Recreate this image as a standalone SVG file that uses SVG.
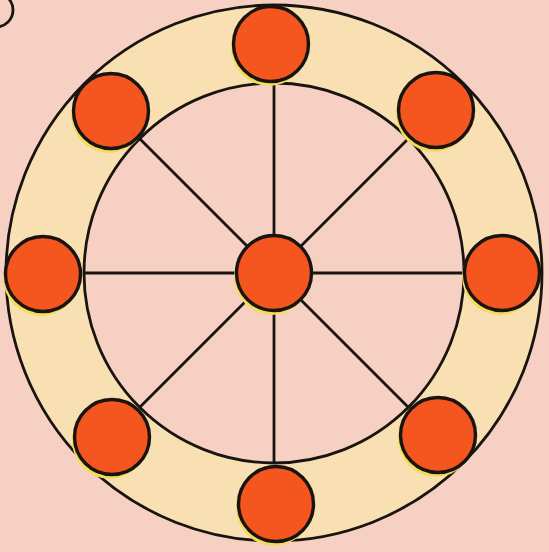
<svg xmlns="http://www.w3.org/2000/svg" width="549" height="552" viewBox="0 0 549 552">
<style>
.line{stroke:#1a1410;stroke-width:2.8;fill:none}
.node{fill:#f5561f;stroke:#1a1410;stroke-width:3.4}
.shadow{fill:#f3dc5c}
</style>
<defs>
<g id="dot">
<circle class="shadow" cx="-2" cy="4" r="38"/>
<circle class="node" cx="0" cy="0" r="37.5"/>
</g>
</defs>
<rect x="0" y="0" width="549" height="552" fill="#f6d1c3"/>
<circle cx="-4" cy="10" r="17" class="line" fill="none"/>
<g id="ring">
<circle cx="274" cy="273" r="268" fill="#f9e0b2" stroke="#1a1410" stroke-width="2.8"/>
<circle cx="274" cy="273" r="190" fill="#f6d1c3" stroke="#1a1410" stroke-width="2.8"/>
</g>
<g id="connectors">
<line class="line" x1="274" y1="273" x2="274" y2="83"/>
<line class="line" x1="274" y1="273" x2="274" y2="463"/>
<line class="line" x1="274" y1="273" x2="84" y2="273"/>
<line class="line" x1="274" y1="273" x2="464" y2="273"/>
<line class="line" x1="274" y1="273" x2="140" y2="139"/>
<line class="line" x1="274" y1="273" x2="408" y2="139"/>
<line class="line" x1="274" y1="273" x2="140" y2="407"/>
<line class="line" x1="274" y1="273" x2="408" y2="407"/>
</g>
<g id="n-center"><use href="#dot" x="274" y="273"/></g>
<g id="n-top"><use href="#dot" x="271" y="44"/></g>
<g id="n-bottom"><use href="#dot" x="276" y="504"/></g>
<g id="n-left"><use href="#dot" x="43" y="274"/></g>
<g id="n-right"><use href="#dot" x="502" y="273"/></g>
<g id="n-topleft"><use href="#dot" x="111" y="111"/></g>
<g id="n-topright"><use href="#dot" x="436" y="110"/></g>
<g id="n-bottomleft"><use href="#dot" x="112" y="437"/></g>
<g id="n-bottomright"><use href="#dot" x="438" y="435"/></g>
</svg>
